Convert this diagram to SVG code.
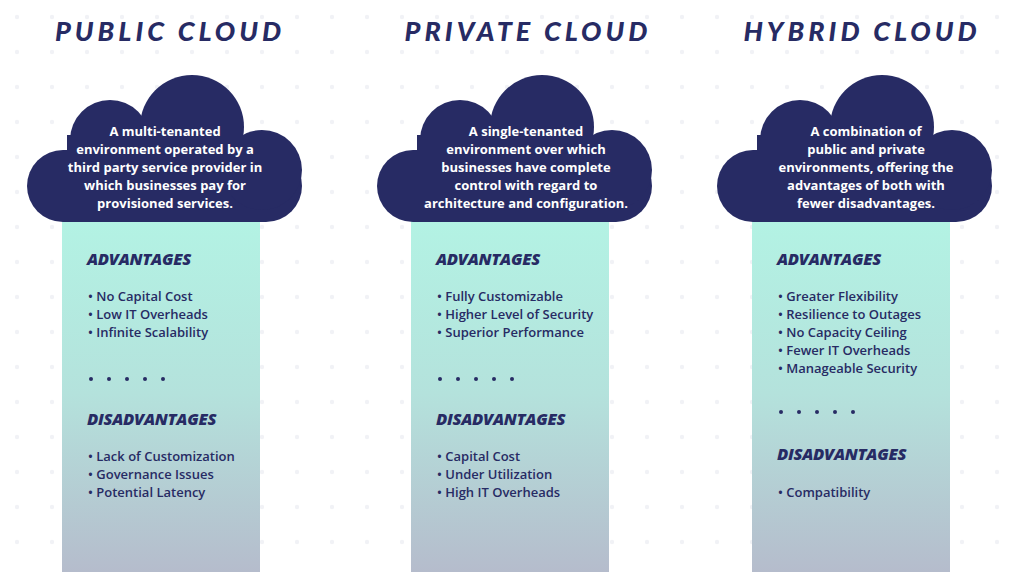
<svg xmlns="http://www.w3.org/2000/svg" width="1022" height="572" viewBox="0 0 1022 572">
<defs>
<linearGradient id="col" x1="0" y1="0" x2="0" y2="1"><stop offset="0" stop-color="#b3f3e4"/><stop offset="0.5" stop-color="#b4e2dc"/><stop offset="1" stop-color="#b5bccc"/></linearGradient>
<pattern id="dots" width="35" height="35" patternUnits="userSpaceOnUse"><circle cx="17" cy="17" r="2.2" fill="#f1f2f6"/></pattern>
<g id="cloud" fill="#272b64"><rect x="0" y="75" width="275" height="72" rx="36"/><circle cx="83" cy="65" r="40"/><circle cx="165" cy="52" r="52"/><circle cx="235" cy="95" r="40"/><rect x="40" y="60" width="200" height="60"/></g>
<g id="five" fill="#272b64"><circle cx="0" cy="0" r="2"/><circle cx="18" cy="0" r="2"/><circle cx="36" cy="0" r="2"/><circle cx="54" cy="0" r="2"/><circle cx="72" cy="0" r="2"/></g>
</defs>
<style>
.t{font-family:Lato,"Open Sans",sans-serif;font-weight:900;font-style:italic;fill:#272b64;font-size:27px;letter-spacing:4px;text-anchor:middle}
.c{font-family:"Open Sans",sans-serif;font-weight:700;fill:#fff;font-size:13px;text-anchor:middle}
.h{font-family:"Open Sans",sans-serif;font-weight:800;font-style:italic;fill:#272b64;font-size:16.5px;letter-spacing:-0.3px}
.b{font-family:"Open Sans",sans-serif;font-weight:600;fill:#272b64;font-size:13px}
</style>
<rect width="1022" height="572" fill="#fff"/>
<rect width="1022" height="572" fill="url(#dots)"/>
<g id="public">
<rect x="62" y="215" width="198" height="357" fill="url(#col)"/>
<use href="#cloud" x="27" y="75"/>
<text class="t" x="170" y="41">PUBLIC CLOUD</text>
<text class="c"><tspan x="165" y="136">A multi-tenanted</tspan><tspan x="165" y="154">environment operated by a</tspan><tspan x="165" y="172">third party service provider in</tspan><tspan x="165" y="190">which businesses pay for</tspan><tspan x="165" y="208">provisioned services.</tspan></text>
<text class="h" x="87" y="265">ADVANTAGES</text>
<text class="b"><tspan x="88" y="301">• No Capital Cost</tspan><tspan x="88" y="319">• Low IT Overheads</tspan><tspan x="88" y="337">• Infinite Scalability</tspan></text>
<use href="#five" x="91" y="379"/>
<text class="h" x="87" y="425">DISADVANTAGES</text>
<text class="b"><tspan x="88" y="461">• Lack of Customization</tspan><tspan x="88" y="479">• Governance Issues</tspan><tspan x="88" y="497">• Potential Latency</tspan></text>
</g>
<g id="private">
<rect x="411" y="215" width="198" height="357" fill="url(#col)"/>
<use href="#cloud" x="377" y="75"/>
<text class="t" x="528" y="41">PRIVATE CLOUD</text>
<text class="c"><tspan x="526" y="136">A single-tenanted</tspan><tspan x="526" y="154">environment over which</tspan><tspan x="526" y="172">businesses have complete</tspan><tspan x="526" y="190">control with regard to</tspan><tspan x="526" y="208">architecture and configuration.</tspan></text>
<text class="h" x="436" y="265">ADVANTAGES</text>
<text class="b"><tspan x="437" y="301">• Fully Customizable</tspan><tspan x="437" y="319">• Higher Level of Security</tspan><tspan x="437" y="337">• Superior Performance</tspan></text>
<use href="#five" x="440" y="379"/>
<text class="h" x="436" y="425">DISADVANTAGES</text>
<text class="b"><tspan x="437" y="461">• Capital Cost</tspan><tspan x="437" y="479">• Under Utilization</tspan><tspan x="437" y="497">• High IT Overheads</tspan></text>
</g>
<g id="hybrid">
<rect x="752" y="215" width="198" height="357" fill="url(#col)"/>
<use href="#cloud" x="717" y="75"/>
<text class="t" x="862" y="41">HYBRID CLOUD</text>
<text class="c"><tspan x="866" y="136">A combination of</tspan><tspan x="866" y="154">public and private</tspan><tspan x="866" y="172">environments, offering the</tspan><tspan x="866" y="190">advantages of both with</tspan><tspan x="866" y="208">fewer disadvantages.</tspan></text>
<text class="h" x="777" y="265">ADVANTAGES</text>
<text class="b"><tspan x="778" y="301">• Greater Flexibility</tspan><tspan x="778" y="319">• Resilience to Outages</tspan><tspan x="778" y="337">• No Capacity Ceiling</tspan><tspan x="778" y="355">• Fewer IT Overheads</tspan><tspan x="778" y="373">• Manageable Security</tspan></text>
<use href="#five" x="781" y="412"/>
<text class="h" x="777" y="460">DISADVANTAGES</text>
<text class="b"><tspan x="778" y="497">• Compatibility</tspan></text>
</g>
<g id="connectors"/>
</svg>
